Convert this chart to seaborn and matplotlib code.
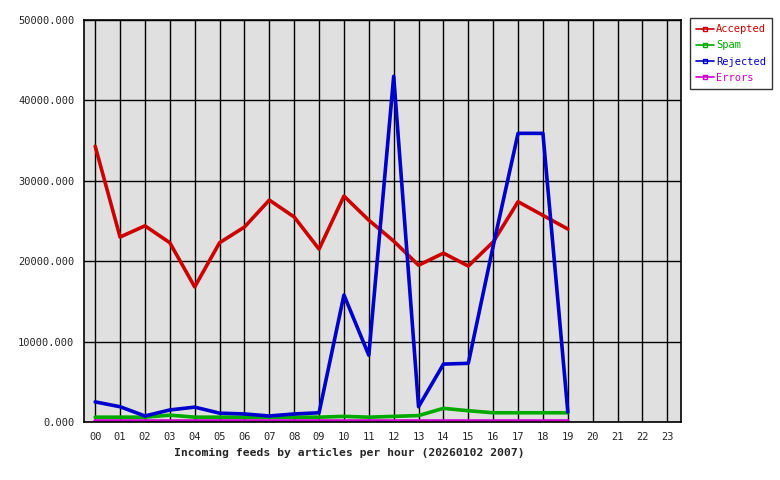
import pandas as pd
import seaborn as sns
import matplotlib.pyplot as plt
from matplotlib.lines import Line2D

# hours shown on the x axis
hours = ['%02d' % h for h in range(24)]
data_hours = list(range(20))  # 00 .. 19 have data

accepted = [34300, 23000, 24400, 22300, 16800, 22300, 24250, 27600, 25500, 21500,
            28100, 25100, 22500, 19500, 21000, 19400, 22400, 27400, 25700, 24000]
spam = [600, 600, 600, 850, 600, 600, 600, 600, 600, 600,
        700, 600, 700, 800, 1700, 1400, 1150, 1150, 1150, 1150]
rejected = [2500, 1900, 750, 1500, 1850, 1100, 1000, 750, 1000, 1150,
            15800, 8300, 43000, 1900, 7200, 7300, 21900, 35900, 35900, 1250]
errors = [100] * 20

series = ['Accepted', 'Spam', 'Rejected', 'Errors']
colours = {'Accepted': '#cc0000', 'Spam': '#00aa00', 'Rejected': '#0000cc', 'Errors': '#cc00cc'}

df = pd.DataFrame({'hour': data_hours * 4,
                   'articles': accepted + spam + rejected + errors,
                   'feed': sum([[s] * 20 for s in series], [])})

sns.set_style('white')
plt.rcParams['font.family'] = ['DejaVu Sans Mono']

fig = plt.figure(figsize=(7.8, 4.8), dpi=100)
ax = fig.add_axes([84 / 780, 58 / 480, 597 / 780, 402 / 480])
ax.set_facecolor('#e0e0e0')

sns.lineplot(data=df, x='hour', y='articles', hue='feed', hue_order=series,
             palette=colours, linewidth=2.6, legend=False, ax=ax)

ax.set_xlim(-0.45, 23.55)
ax.set_ylim(0, 50000)
ax.set_xticks(range(24))
ax.set_xticklabels(hours)
ax.set_yticks(range(0, 50001, 10000))
ax.set_yticklabels(['%.3f' % v for v in range(0, 50001, 10000)])
ax.tick_params(axis='both', labelsize=7.5, color='black', length=5, width=1,
               direction='out', pad=2)
ax.grid(True, color='black', linewidth=1)
ax.set_axisbelow(True)
for side in ax.spines.values():
    side.set_color('black')
    side.set_linewidth(1.2)
ax.set_ylabel('')
ax.set_xlabel('Incoming feeds by articles per hour (20260102 2007)',
              fontweight='bold', fontsize=8.2, labelpad=2)
ax.xaxis.set_label_coords(0.444, -0.065)

handles = [Line2D([0], [0], color=colours[s], linewidth=1.2, marker='s', markersize=2.5,
                  markerfacecolor='none', markeredgecolor=colours[s]) for s in series]
leg = fig.legend(handles, series, loc='upper left', bbox_to_anchor=(690 / 780, 1 - 18 / 480),
                 frameon=True, fancybox=False, edgecolor='black', fontsize=7.5,
                 handlelength=1.7, handletextpad=0.2, borderpad=0.6, labelspacing=0.6,
                 borderaxespad=0)
leg.get_frame().set_linewidth(1)
for text, s in zip(leg.get_texts(), series):
    text.set_color(colours[s])

fig.savefig('out.png', dpi=100)
